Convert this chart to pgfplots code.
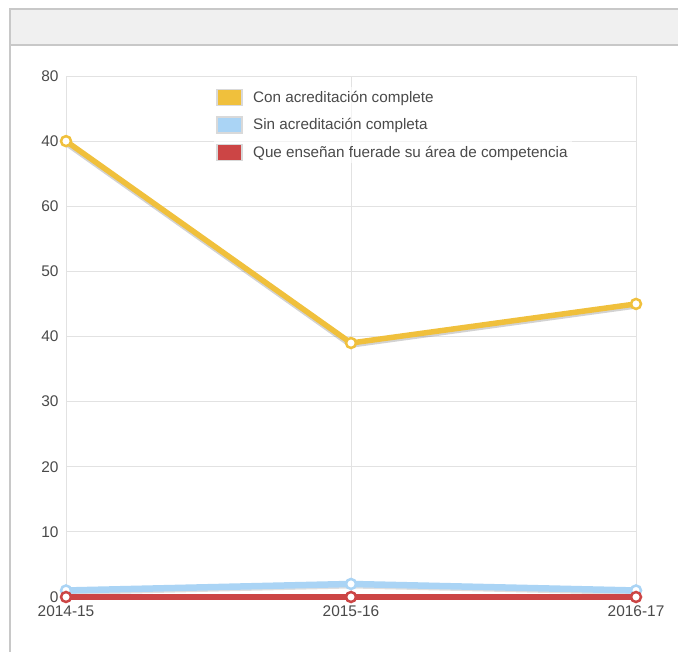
\documentclass[border=0pt]{standalone}
\usepackage{fontspec}
\setmainfont{Liberation Sans}
\usepackage{pgfplots}
\pgfplotsset{compat=1.18}
\definecolor{cyel}{HTML}{F0C03C}
\definecolor{cblu}{HTML}{AAD4F5}
\definecolor{cred}{HTML}{CC4545}
\definecolor{hdr}{HTML}{F0F0F0}
\definecolor{bord}{HTML}{C8C8C8}
\definecolor{gridc}{HTML}{E2E2E2}
\definecolor{txt}{HTML}{4A4A4A}
\pgfplotsset{boxleg/.style={legend image code/.code={%
    \draw[##1, fill opacity=1, draw opacity=1] (0bp,-8bp) rectangle (25bp,8bp);
    \path[draw=none, fill=none] (0bp,0bp) -- (34bp,0bp);}}}
\begin{document}
\begin{tikzpicture}[x=1bp,y=1bp]
\useasboundingbox (0,0) rectangle (678,652);
\fill[white] (0,0) rectangle (678,652);
\fill[hdr] (10,607) rectangle (678,643);
\draw[bord, line width=2bp] (678,643) -- (10,643) -- (10,0);
\draw[bord, line width=1.5bp] (10,607) -- (678,607);
\begin{axis}[
    at={(66bp,55bp)}, anchor=south west,
    scale only axis, width=570bp, height=521bp,
    xmin=0, xmax=2, ymin=0, ymax=80,
    xtick={0,1,2}, xticklabels={2014-15,2015-16,2016-17},
    ytick={0,10,20,30,40,50,60,70,80},
    yticklabels={0,10,20,30,40,50,60,40,80},
    grid=major, grid style={gridc, line width=0.8bp},
    axis line style={draw=none},
    major tick length=0pt,
    clip=false,
    /pgf/number format/assume math mode=true,
    ticklabel style={font=\fontsize{15.5}{17}\selectfont, text=txt},
    xticklabel style={yshift=-5bp},
    yticklabel style={xshift=-4bp},
    legend style={at={(0.26,0.98)}, anchor=north west, draw=none,
        fill=white, fill opacity=0.6, text opacity=1,
        font=\fontsize{15.3}{17}\selectfont, text=txt,
        row sep=10bp, inner sep=2bp},
    legend cell align=left,
]
% shadows
\addplot[gray, opacity=0.35, line width=5.5bp, yshift=-2bp, forget plot] coordinates {(0,70) (1,39) (2,45)};
\addplot[gray, opacity=0.25, line width=5bp, yshift=-2bp, forget plot] coordinates {(0,1) (1,2) (2,1)};
% series
\addplot[cyel, line width=5.5bp, mark=*, mark size=5bp, mark options={fill=white, draw=cyel, line width=2.5bp}, forget plot] coordinates {(0,70) (1,39) (2,45)};
\addplot[cblu, line width=6.5bp, mark=*, mark size=5bp, mark options={fill=white, draw=cblu, line width=2.5bp}, forget plot] coordinates {(0,1) (1,2) (2,1)};
\addplot[cred, line width=5.5bp, mark=*, mark size=5bp, mark options={fill=white, draw=cred, line width=2.5bp}, forget plot] coordinates {(0,0) (1,0) (2,0)};
\addlegendimage{boxleg, fill=cyel, draw=bord!70, line width=1.5bp}
\addlegendentry{Con acreditación complete}
\addlegendimage{boxleg, fill=cblu, draw=bord!70, line width=1.5bp}
\addlegendentry{Sin acreditación completa}
\addlegendimage{boxleg, fill=cred, draw=bord!70, line width=1.5bp}
\addlegendentry{Que enseñan fuerade su área de competencia}
\end{axis}
\end{tikzpicture}
\end{document}
